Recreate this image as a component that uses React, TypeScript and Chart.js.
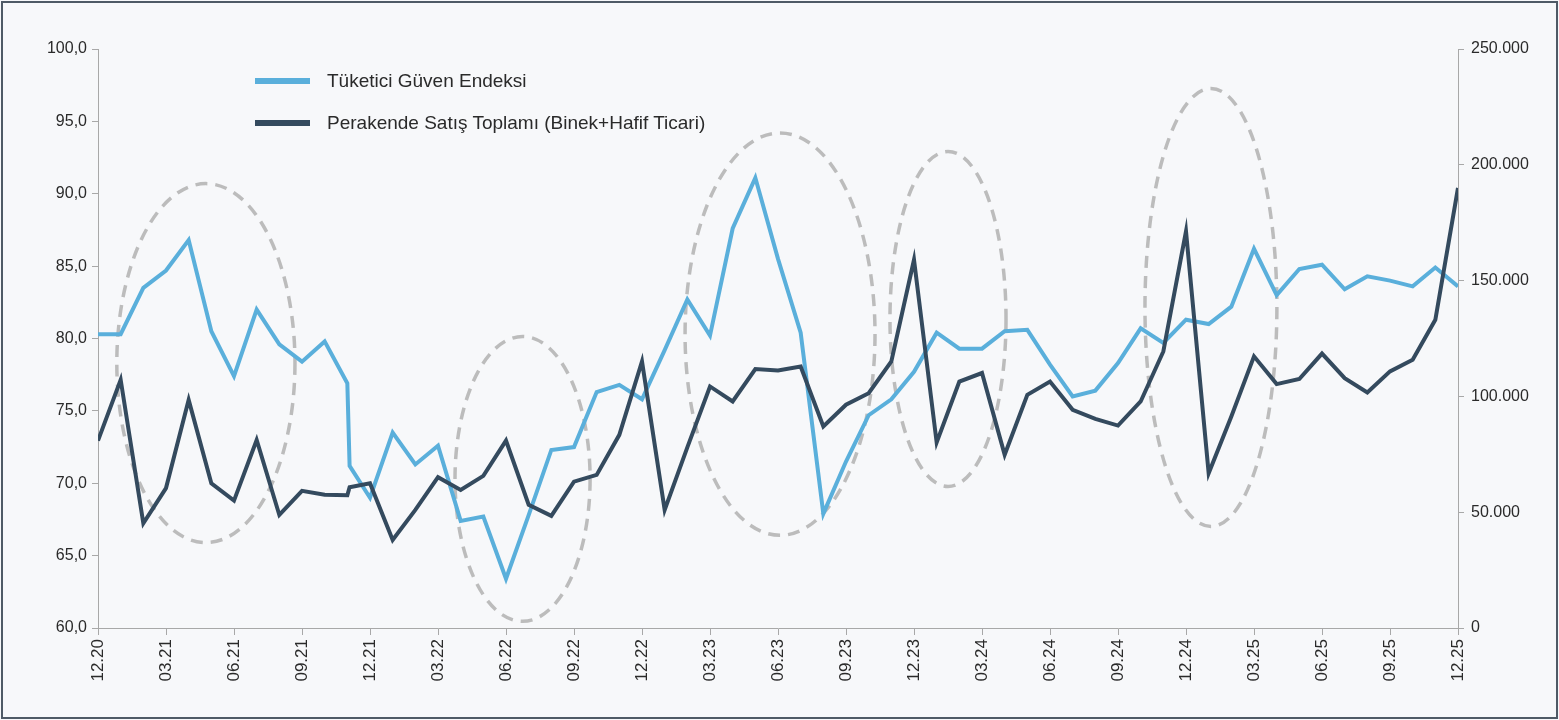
import React, { useEffect, useRef } from "react";
import { Chart, registerables } from "chart.js";

Chart.register(...registerables);

// Month position of each observation (0 = 12.20, 60 = 12.25); the source has one extra reading just after 11.21
const monthIndex = [
  0, 1, 2, 3, 4, 5, 6, 7, 8, 9, 10, 11, 11.1, 12, 13, 14, 15, 16, 17, 18, 19, 20,
  21, 22, 23, 24, 25, 26, 27, 28, 29, 30, 31, 32, 33, 34, 35, 36, 37, 38, 39, 40,
  41, 42, 43, 44, 45, 46, 47, 48, 49, 50, 51, 52, 53, 54, 55, 56, 57, 58, 59, 60,
];

const tickLabels = [
  "12.20", "03.21", "06.21", "09.21", "12.21", "03.22", "06.22", "09.22", "12.22",
  "03.23", "06.23", "09.23", "12.23", "03.24", "06.24", "09.24", "12.24", "03.25",
  "06.25", "09.25", "12.25",
];

const confidenceIndex = [
  80.3, 80.3, 83.5, 84.7, 86.8, 80.5, 77.4, 82.0, 79.6, 78.4, 79.8, 76.9, 71.2,
  69.0, 73.5, 71.3, 72.6, 67.4, 67.7, 63.4, 67.8, 72.3, 72.5, 76.3, 76.8, 75.8,
  79.2, 82.7, 80.2, 87.6, 91.1, 85.5, 80.4, 67.9, 71.5, 74.7, 75.8, 77.7, 80.4,
  79.3, 79.3, 80.5, 80.6, 78.2, 76.0, 76.4, 78.3, 80.7, 79.7, 81.3, 81.0, 82.2,
  86.2, 83.0, 84.8, 85.1, 83.4, 84.3, 84.0, 83.6, 84.9, 83.6,
];

// thousands of units
const retailSales = [
  80.9, 107.2, 45.2, 60.4, 98.5, 62.5, 55.0, 81.2, 48.8, 59.2, 57.5, 57.3, 60.8,
  62.5, 38.0, 51.0, 65.1, 59.6, 65.7, 80.9, 53.2, 48.4, 63.2, 66.1, 83.4, 115.1,
  51.0, 78.0, 104.3, 97.8, 111.8, 111.2, 112.9, 87.0, 96.4, 101.4, 115.1, 159.0,
  80.1, 106.4, 110.1, 74.8, 100.7, 106.4, 94.2, 90.3, 87.4, 97.8, 119.4, 171.3,
  66.8, 91.3, 117.3, 105.3, 107.5, 118.5, 107.9, 101.7, 110.8, 115.8, 133.1, 190.0,
];

// Highlight ellipses in data units (month index, left-axis value)
const highlightCenterMonth = [4.76, 18.73, 30.09, 37.5, 49.1];
const highlightCenterValue = [78.3, 70.3, 80.3, 81.35, 82.14];
const highlightRadiusMonth = [3.93, 2.98, 4.19, 2.56, 2.91];
const highlightRadiusValue = [12.4, 9.84, 13.9, 11.57, 15.13];

const BLUE = "#5aafdb";
const DARK = "#344a5e";
const AXIS = "#a8a8a8";
const TEXT = "#2a2a2a";
const FONT = "'Liberation Sans', Arial, sans-serif";

const ellipsePlugin = {
  id: "ellipses",
  beforeDatasetsDraw(chart: any) {
    const ctx = chart.ctx;
    const xs = chart.scales.x;
    const ys = chart.scales.y;
    ctx.save();
    ctx.strokeStyle = "#bcbcbc";
    ctx.lineWidth = 3.5;
    ctx.setLineDash([12, 8]);
    for (let i = 0; i < highlightCenterMonth.length; i++) {
      const cx = xs.getPixelForValue(highlightCenterMonth[i]);
      const cy = ys.getPixelForValue(highlightCenterValue[i]);
      const rx = Math.abs(xs.getPixelForValue(highlightCenterMonth[i] + highlightRadiusMonth[i]) - cx);
      const ry = Math.abs(ys.getPixelForValue(highlightCenterValue[i] + highlightRadiusValue[i]) - cy);
      ctx.beginPath();
      ctx.ellipse(cx, cy, rx, ry, 0, 0, Math.PI * 2);
      ctx.stroke();
    }
    ctx.restore();
  },
};

export default function App() {
  const canvasRef = useRef<HTMLCanvasElement | null>(null);

  useEffect(() => {
    const canvas = canvasRef.current;
    if (!canvas) return;
    const blueData = monthIndex.map((m, i) => ({ x: m, y: confidenceIndex[i] }));
    const darkData = monthIndex.map((m, i) => ({ x: m, y: retailSales[i] }));
    const chart = new Chart(canvas, {
      type: "line",
      data: {
        datasets: [
          {
            label: "Tüketici Güven Endeksi",
            data: blueData,
            yAxisID: "y",
            borderColor: BLUE,
            backgroundColor: BLUE,
            borderWidth: 4,
            pointRadius: 0,
            tension: 0,
            order: 1,
          },
          {
            label: "Perakende Satış Toplamı (Binek+Hafif Ticari)",
            data: darkData,
            yAxisID: "y1",
            borderColor: DARK,
            backgroundColor: DARK,
            borderWidth: 4,
            pointRadius: 0,
            tension: 0,
            order: 0,
          },
        ],
      },
      options: {
        responsive: false,
        animation: false,
        layout: { padding: { top: 49, left: 0, right: 0, bottom: 0 } },
        plugins: { legend: { display: false }, tooltip: { enabled: false } },
        scales: {
          x: {
            type: "linear",
            position: "bottom",
            min: 0,
            max: 60,
            afterBuildTicks: (scale: any) => {
              scale.ticks = tickLabels.map((_, i) => ({ value: i * 3 }));
            },
            afterFit: (scale: any) => {
              scale.height = 92;
            },
            grid: { drawOnChartArea: false, drawTicks: true, tickLength: 7, color: AXIS },
            border: { color: AXIS, width: 1 },
            ticks: {
              autoSkip: false,
              maxRotation: 90,
              minRotation: 90,
              padding: 4,
              color: TEXT,
              font: { family: FONT, size: 17 },
              callback: (v: any) => tickLabels[Math.round(Number(v) / 3)] ?? "",
            },
          },
          y: {
            type: "linear",
            position: "left",
            min: 60,
            max: 100,
            afterFit: (scale: any) => {
              scale.width = 98;
            },
            grid: { drawOnChartArea: false, drawTicks: true, tickLength: 6, color: AXIS },
            border: { color: AXIS, width: 1 },
            ticks: {
              stepSize: 5,
              padding: 5,
              color: TEXT,
              font: { family: FONT, size: 16 },
              callback: (v: any) => Number(v).toFixed(1).replace(".", ","),
            },
          },
          y1: {
            type: "linear",
            position: "right",
            min: 0,
            max: 250,
            afterFit: (scale: any) => {
              scale.width = 101;
            },
            grid: { drawOnChartArea: false, drawTicks: true, tickLength: 6, color: AXIS },
            border: { color: AXIS, width: 1 },
            ticks: {
              stepSize: 50,
              padding: 7,
              color: TEXT,
              font: { family: FONT, size: 16 },
              callback: (v: any) => (Number(v) === 0 ? "0" : `${Number(v)}.000`),
            },
          },
        },
      },
      plugins: [ellipsePlugin],
    });
    return () => chart.destroy();
  }, []);

  const legendItems = [
    { label: "Tüketici Güven Endeksi", color: BLUE, top: 81 },
    { label: "Perakende Satış Toplamı (Binek+Hafif Ticari)", color: DARK, top: 123 },
  ];

  return (
    <div
      style={{
        position: "fixed",
        left: 0,
        top: 0,
        width: 1559,
        height: 720,
        background: "#f7f8fa",
        overflow: "hidden",
      }}
    >
      <canvas ref={canvasRef} width={1559} height={720} style={{ position: "absolute", left: 0, top: 0 }} />
      {legendItems.map((it) => (
        <div key={it.label}>
          <div
            style={{
              position: "absolute",
              left: 255,
              top: it.top - 3,
              width: 55,
              height: 6,
              background: it.color,
            }}
          />
          <div
            style={{
              position: "absolute",
              left: 327,
              top: it.top - 11,
              lineHeight: "22px",
              fontFamily: FONT,
              fontSize: 19,
              color: TEXT,
              whiteSpace: "nowrap",
            }}
          >
            {it.label}
          </div>
        </div>
      ))}
      <div
        style={{
          position: "absolute",
          left: 1,
          top: 1,
          right: 1,
          bottom: 1,
          border: "2px solid #4f5a66",
          pointerEvents: "none",
        }}
      />
    </div>
  );
}
